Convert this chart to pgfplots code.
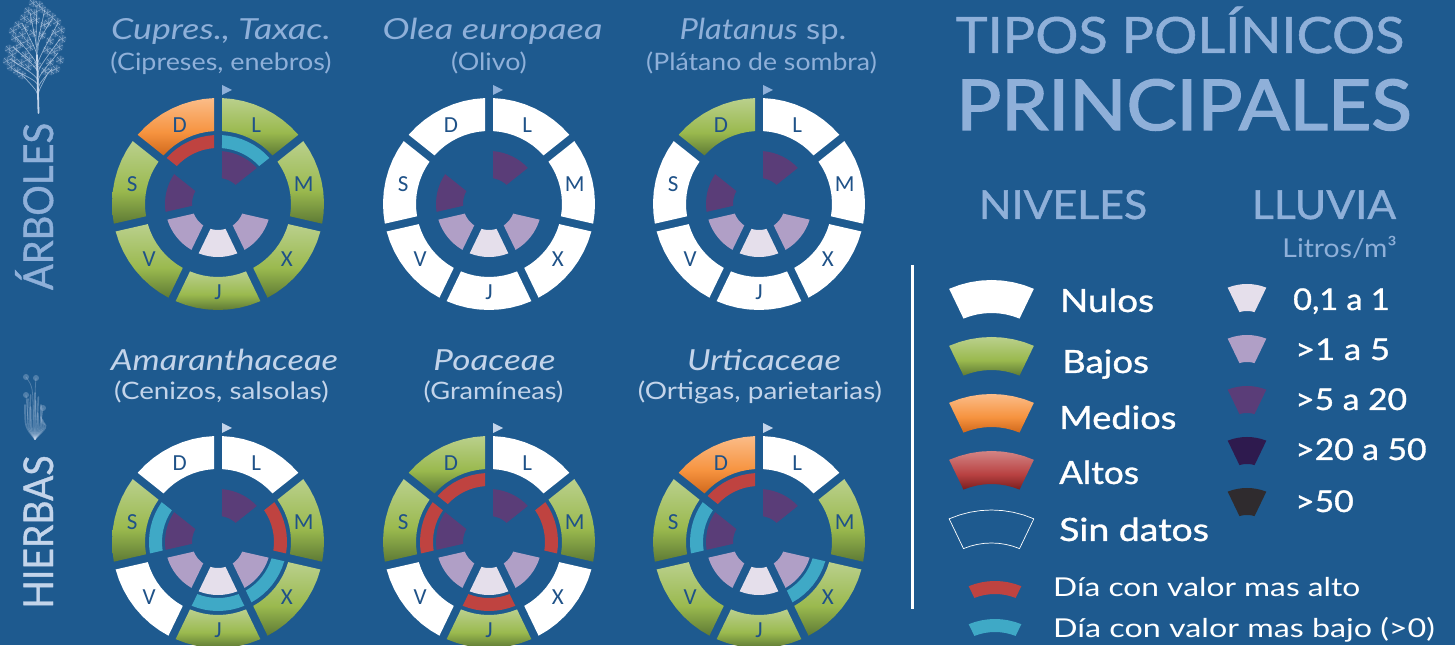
\documentclass[border=0pt]{standalone}
\usepackage{fontspec}
\usepackage{pgfplots}
\usepackage{pgfplotstable}
\pgfplotsset{compat=1.18}
\usepgfplotslibrary{polar}
\setmainfont{Lato}
\newfontfamily\cali{Carlito}
\newfontfamily\med[FakeBold=1]{Lato}
\newfontfamily\fuerte[FakeBold=2]{Lato}

\definecolor{fondo}{HTML}{1E5A8F}
\definecolor{titulo}{HTML}{8FB0D9}
\definecolor{claro}{HTML}{C3D4EA}
\definecolor{letra}{HTML}{1F5288}
\definecolor{verdeA}{HTML}{BAD08C}
\definecolor{verdeB}{HTML}{9AB94E}
\definecolor{verdeC}{HTML}{5E7A35}
\definecolor{naranjaA}{HTML}{FBBC88}
\definecolor{naranjaB}{HTML}{F6933F}
\definecolor{naranjaC}{HTML}{D0681C}
\definecolor{rojoA}{HTML}{D28484}
\definecolor{rojoB}{HTML}{B94242}
\definecolor{rojoC}{HTML}{7A1E1E}
\definecolor{maxi}{HTML}{BF4340}
\definecolor{mini}{HTML}{3FA9C6}
\definecolor{lluA}{HTML}{E5DFEB}
\definecolor{lluB}{HTML}{B09FC6}
\definecolor{lluC}{HTML}{5A3D78}
\definecolor{lluD}{HTML}{2E1A4E}
\definecolor{lluE}{HTML}{2F2B2E}

\pgfdeclareverticalshading{sverde}{100bp}{color(0bp)=(verdeC); color(25bp)=(verdeC); color(45bp)=(verdeB); color(75bp)=(verdeA); color(100bp)=(verdeA)}
\pgfdeclareverticalshading{snaranja}{100bp}{color(0bp)=(naranjaC); color(25bp)=(naranjaC); color(45bp)=(naranjaB); color(75bp)=(naranjaA); color(100bp)=(naranjaA)}
\pgfdeclareverticalshading{srojo}{100bp}{color(0bp)=(rojoC); color(25bp)=(rojoC); color(45bp)=(rojoB); color(75bp)=(rojoA); color(100bp)=(rojoA)}

% band shapes: angle relative to the middle of the month, radius in px
\pgfplotstableread{
a r
-23.55 106
-17.66 106
-11.78 106
-5.89 106
0 106
5.89 106
11.78 106
17.66 106
23.55 106
22.57 73
16.93 73
11.28 73
5.64 73
0 73
-5.64 73
-11.28 73
-16.93 73
-22.57 73
-23.55 106
}\banda
\pgfplotstableread{
a r
-22.39 69
-16.79 69
-11.20 69
-5.60 69
0 69
5.60 69
11.20 69
16.79 69
22.39 69
21.62 56
16.22 56
10.81 56
5.41 56
0 56
-5.41 56
-10.81 56
-16.22 56
-21.62 56
-22.39 69
}\anillo
\pgfplotstableread{
a r
-21.38 53
-16.04 53
-10.69 53
-5.35 53
0 53
5.35 53
10.69 53
16.04 53
21.38 53
16.87 26
12.65 26
8.44 26
4.22 26
0 26
-4.22 26
-8.44 26
-12.65 26
-16.87 26
-21.38 53
}\cuna

\pgfplotsset{
  nivel0/.style={fill=white,draw=none},
  nivel1/.style={draw=none,shade,shading=sverde},
  nivel2/.style={draw=none,shade,shading=snaranja},
  nivel3/.style={draw=none,shade,shading=srojo},
  nivel4/.style={draw=white,fill=none,line width=0.7pt},
  marca0/.style={draw=none,fill=none},
  marca1/.style={draw=none,fill=maxi},
  marca2/.style={draw=none,fill=mini},
  lluvia0/.style={draw=none,fill=none},
  lluvia1/.style={draw=none,fill=lluA},
  lluvia2/.style={draw=none,fill=lluB},
  lluvia3/.style={draw=none,fill=lluC},
  lluvia4/.style={draw=none,fill=lluD},
  lluvia5/.style={draw=none,fill=lluE},
  rueda/.style={hide axis,clip=false,scale only axis,width=212pt,height=212pt,
    xmin=0,xmax=360,ymin=0,ymax=106,anchor=center},
}

% month number, letter, level, marked day, rain
\newcommand\mes[5]{%
  \addplot[nivel#3] table[x expr=\thisrow{a}+64.286-51.429*#1,y=r]{\banda};
  \addplot[marca#4] table[x expr=\thisrow{a}+64.286-51.429*#1,y=r]{\anillo};
  \addplot[lluvia#5] table[x expr=\thisrow{a}+64.286-51.429*#1,y=r]{\cuna};
  \node[text=letra,font=\cali\fontsize{23}{23}\selectfont] at (axis cs:64.286-51.429*#1,88) {#2};
}
\newcommand\flecha[3]{\fill[#3] (#1pt+4pt,645pt-#2pt+119pt) -- (#1pt+14pt,645pt-#2pt+114pt) -- (#1pt+4pt,645pt-#2pt+109pt) -- cycle;}
% swatch of the key: centre x, centre y, table, style
\newcommand\muestra[4]{%
  \begin{polaraxis}[rueda,at={(#1pt,645pt-#2pt)}]
    \addplot[#4] table[x expr=\thisrow{a}+90,y=r]{#3};
  \end{polaraxis}}
% text: anchor, colour, x, y from the top, horizontal stretch, text
\newcommand\T[6][base]{\node[anchor=#1,inner sep=0pt,text=#2] at (#3pt,645pt-#4pt) {\scalebox{#5}[1]{#6}};}
\newcommand\fs[1]{\fontsize{#1}{#1}\selectfont}

\begin{document}
\begin{tikzpicture}[x=1pt,y=1pt]
\path[use as bounding box,clip] (0,0) rectangle (1455pt,645pt);
\fill[fondo] (0,0) rectangle (1455pt,645pt);

% tree
\begin{scope}[draw=claro,line cap=round]
  \fill[claro,opacity=.12] \foreach \a/\b in {11/578,7/584,12/590,17/574,22/570,16/596,9/596,20/601,15/607,13/614,22/610,18/620,25/617,24/627,30/624,28/634,34/632,33/642,39/640,36/625,42/636,47/632,52/628,57/623,48/622,61/615,55/612,62/606,50/604,59/598,54/593,60/585,50/583,56/576,45/574,28/578,25/590,47/595,27/604,42/610,33/612,44/620,30/598,51/574,37/580,29/586,21/582,14/584}
    {(\a,\b) circle (4.5pt)};
  \foreach \a/\b in {11/578,7/584,12/590,17/574,22/570,16/596,9/596,20/601,15/607,13/614,22/610,18/620,25/617,24/627,30/624,28/634,34/632,33/642,39/640,36/625,42/636,47/632,52/628,57/623,48/622,61/615,55/612,62/606,50/604,59/598,54/593,60/585,50/583,56/576,45/574,28/578,25/590,47/595,27/604,42/610,33/612,44/620,30/598,51/574,37/580,29/586,21/582,14/584}
    \draw[line width=0.5pt,opacity=.55] (\a-4,\b-2) -- (\a+4,\b+2) (\a-3,\b+3) -- (\a+3,\b-3) (\a,\b-4) -- (\a+1,\b+4);
  \draw[line width=1.8pt] (38.5,532) -- (37,590);
  \foreach \a/\b/\c/\d in {38/555/14/575,38/560/10/586,38/568/13/598,37/575/16/608,37/585/22/622,37/590/30/632,37/575/58/622,38/568/60/606,38/560/58/592,38/552/52/576,38/545/24/568,38/545/47/570,37/592/45/636,36/600/37/640,38/595/52/626}
    \draw[line width=0.7pt,opacity=.7] (\a,\b) .. controls (\a,\b+8) .. (\c,\d);
\end{scope}
% grass
\begin{scope}[draw=claro,line cap=round,opacity=.3,line width=1.6pt]
  \foreach \a/\b in {25/240,27/246,29/250,31/238,33/252,35/244,37/248,39/232,41/240,43/228,45/225,47/222}
    \draw (35,206) .. controls (\a,218) .. (\b/6+\a-40,\b);
  \fill[claro] (26,268) circle (3pt) (36,267) circle (3pt) (26,250) circle (3pt) (43,237) circle (3pt);
  \draw[line width=.8pt] (26,268) .. controls (33,258) .. (33,225) (36,267) .. controls (35,255) .. (36,225) (26,250) -- (28,225) (43,237) -- (41,222);
\end{scope}

% Cupres., Taxac.
\begin{polaraxis}[rueda,at={(218pt,645pt-204pt)}]
  \mes{0}{L}{1}{2}{3}\mes{1}{M}{1}{0}{0}\mes{2}{X}{1}{0}{2}\mes{3}{J}{1}{0}{1}\mes{4}{V}{1}{0}{2}\mes{5}{S}{1}{0}{3}\mes{6}{D}{2}{1}{0}
\end{polaraxis}
% Olea europaea
\begin{polaraxis}[rueda,at={(489pt,645pt-204pt)}]
  \mes{0}{L}{0}{0}{3}\mes{1}{M}{0}{0}{0}\mes{2}{X}{0}{0}{2}\mes{3}{J}{0}{0}{1}\mes{4}{V}{0}{0}{2}\mes{5}{S}{0}{0}{3}\mes{6}{D}{0}{0}{0}
\end{polaraxis}
% Platanus sp.
\begin{polaraxis}[rueda,at={(759pt,645pt-204pt)}]
  \mes{0}{L}{0}{0}{3}\mes{1}{M}{0}{0}{0}\mes{2}{X}{0}{0}{2}\mes{3}{J}{0}{0}{1}\mes{4}{V}{0}{0}{2}\mes{5}{S}{0}{0}{3}\mes{6}{D}{1}{0}{0}
\end{polaraxis}
% Amaranthaceae
\begin{polaraxis}[rueda,at={(218pt,645pt-542pt)}]
  \mes{0}{L}{0}{0}{3}\mes{1}{M}{1}{1}{0}\mes{2}{X}{1}{2}{2}\mes{3}{J}{1}{2}{1}\mes{4}{V}{0}{0}{2}\mes{5}{S}{1}{2}{3}\mes{6}{D}{0}{0}{0}
\end{polaraxis}
% Poaceae
\begin{polaraxis}[rueda,at={(489pt,645pt-542pt)}]
  \mes{0}{L}{0}{0}{3}\mes{1}{M}{1}{1}{0}\mes{2}{X}{0}{0}{2}\mes{3}{J}{1}{1}{1}\mes{4}{V}{0}{0}{2}\mes{5}{S}{1}{1}{3}\mes{6}{D}{1}{1}{0}
\end{polaraxis}
% Urticaceae
\begin{polaraxis}[rueda,at={(759pt,645pt-542pt)}]
  \mes{0}{L}{0}{0}{3}\mes{1}{M}{1}{0}{0}\mes{2}{X}{1}{2}{2}\mes{3}{J}{1}{0}{1}\mes{4}{V}{1}{0}{2}\mes{5}{S}{1}{2}{3}\mes{6}{D}{2}{1}{0}
\end{polaraxis}

\flecha{218}{204}{titulo}\flecha{489}{204}{titulo}\flecha{759}{204}{titulo}
\flecha{218}{542}{claro}\flecha{489}{542}{claro}\flecha{759}{542}{claro}

% key
\muestra{991.5}{386}{\banda}{nivel0}
\muestra{991.5}{443}{\banda}{nivel1}
\muestra{991.5}{500}{\banda}{nivel2}
\muestra{991.5}{557}{\banda}{nivel3}
\muestra{991.5}{616}{\banda}{nivel4}
\muestra{995}{650}{\anillo}{marca1}
\muestra{995}{688}{\anillo}{marca2}
\muestra{1247}{337}{\cuna}{lluvia1}
\muestra{1247}{388}{\cuna}{lluvia2}
\muestra{1247}{439}{\cuna}{lluvia3}
\muestra{1247}{490}{\cuna}{lluvia4}
\muestra{1247}{541}{\cuna}{lluvia5}

\draw[white,line width=3pt] (912pt,645pt-265pt) -- (912pt,645pt-609pt);

% texts
\node[rotate=90,anchor=base,inner sep=0pt,text=titulo] at (53pt,645pt-206.5pt) {\scalebox{.93}[1]{\fs{41}\med ÁRBOLES}};
\node[rotate=90,anchor=base,inner sep=0pt,text=claro] at (53pt,645pt-532pt) {\scalebox{.91}[1]{\fs{41}\med HIERBAS}};

\T{titulo}{221}{40}{1.23}{\fs{29}\itshape Cupres., Taxac.}
\T{titulo}{221}{71}{1.12}{\fs{24}(Cipreses, enebros)}
\T{titulo}{492.5}{40}{1.25}{\fs{29}\itshape Olea europaea}
\T{titulo}{489}{71}{1.12}{\fs{24}(Olivo)}
\T{titulo}{763}{40}{1.13}{\fs{29}{\itshape Platanus} sp.}
\T{titulo}{761.5}{71}{1.11}{\fs{24}(Plátano de sombra)}
\T{claro}{224.5}{371}{1.19}{\fs{29}\itshape Amaranthaceae}
\T{claro}{221.5}{400}{1.156}{\fs{24}(Cenizos, salsolas)}
\T{claro}{494.5}{371}{1.21}{\fs{29}\itshape Poaceae}
\T{claro}{493.5}{400}{1.13}{\fs{24}(Gramíneas)}
\T{claro}{764}{371}{1.19}{\fs{29}\itshape Urticaceae}
\T{claro}{760}{400}{1.16}{\fs{24}(Ortigas, parietarias)}

\T{titulo}{1180}{53}{1.08}{\fs{50}\med TIPOS POLÍNICOS}
\T{titulo}{1184}{130}{1.07}{\fs{70}\fuerte PRINCIPALES}
\T{titulo}{1063}{219}{1.07}{\fs{40}\med NIVELES}
\T{titulo}{1324}{219}{1.07}{\fs{40}\med LLUVIA}
\T[base east]{titulo}{1397}{258}{1.09}{\fs{26}Litros/m³}

\T[base west]{white}{1060}{312}{1.15}{\fs{32}\med Nulos}
\T[base west]{white}{1062}{373}{1.14}{\fs{32}\med Bajos}
\T[base west]{white}{1059}{429}{1.13}{\fs{32}\med Medios}
\T[base west]{white}{1059}{484}{1.10}{\fs{32}\med Altos}
\T[base west]{white}{1059}{541}{1.17}{\fs{32}\med Sin datos}
\T[base west]{white}{1293}{310}{1.08}{\fs{30}\med 0,1 a 1}
\T[base west]{white}{1295}{360}{1.15}{\fs{30}\med >1 a 5}
\T[base west]{white}{1295}{410}{1.12}{\fs{30}\med >5 a 20}
\T[base west]{white}{1295}{460}{1.12}{\fs{30}\med >20 a 50}
\T[base west]{white}{1295}{512}{1.12}{\fs{30}\med >50}
\T[base west]{white}{1053}{596}{1.22}{\fs{26}Día con valor mas alto}
\T[base west]{white}{1053}{637}{1.24}{\fs{26}Día con valor mas bajo (>0)}
\end{tikzpicture}
\end{document}
